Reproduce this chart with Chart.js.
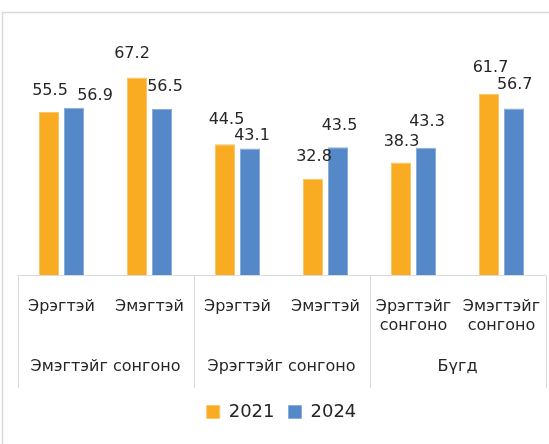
<!DOCTYPE html>
<html>
<head>
<meta charset="utf-8">
<script src="https://cdn.jsdelivr.net/npm/chart.js@4/dist/chart.umd.min.js"></script>
<style>
  html, body { margin: 0; padding: 0; background: #ffffff; }
  #wrap { width: 549px; height: 444px; position: relative; }
</style>
</head>
<body>
<div id="wrap"><canvas id="c" width="549" height="444"></canvas></div>
<script>
// ---- data ----
const categories = [
  ["Эрэгтэй"], ["Эмэгтэй"],
  ["Эрэгтэй"], ["Эмэгтэй"],
  ["Эрэгтэйг", "сонгоно"], ["Эмэгтэйг", "сонгоно"]
];
const groupLabels = ["Эмэгтэйг сонгоно", "Эрэгтэйг сонгоно", "Бүгд"];
const seriesNames = ["2021", "2024"];
const values2021 = [55.5, 67.2, 44.5, 32.8, 38.3, 61.7];
const values2024 = [56.9, 56.5, 43.1, 43.5, 43.3, 56.7];

// ---- styles ----
const FONT = "'DejaVu Sans', sans-serif";
const TEXT = "#262626";
const LINE = "#d9d9d9";
const ORANGE = "#F9AB22";
const BLUE = "#5588C8";
// label placement tweaks (dx, distance of label centre above bar top)
const labelDx = [[1, -5, 1.5, 1, 0.5, 1.5], [21, 3, 2, 1.5, 1, 0.7]];
const labelGap = [[21, 24, 24, 21.5, 21, 26], [12, 22, 13, 21, 25.5, 23.6]];

const overlay = {
  id: 'overlay',
  beforeDraw(chart) {
    const ctx = chart.ctx;
    ctx.save();
    ctx.fillStyle = '#fff';
    ctx.fillRect(0, 0, chart.width, chart.height);
    // outer frame (partially visible)
    ctx.strokeStyle = LINE;
    ctx.lineWidth = 1.5;
    ctx.beginPath();
    ctx.moveTo(2.5, chart.height);
    ctx.lineTo(2.5, 12.5);
    ctx.lineTo(chart.width, 12.5);
    ctx.stroke();
    ctx.restore();
  },
  afterDraw(chart) {
    const ctx = chart.ctx;
    const x = chart.scales.x;
    const area = chart.chartArea;
    const n = categories.length;
    const step = (x.getPixelForValue(1) - x.getPixelForValue(0));
    ctx.save();
    // axis baseline
    ctx.strokeStyle = LINE;
    ctx.lineWidth = 1;
    ctx.beginPath();
    ctx.moveTo(area.left, Math.round(area.bottom) + 0.5);
    ctx.lineTo(area.right, Math.round(area.bottom) + 0.5);
    // group separators
    for (let g = 0; g <= groupLabels.length; g++) {
      const px = Math.round(x.getPixelForValue(g * 2) - step / 2) + 0.5;
      ctx.moveTo(px, area.bottom);
      ctx.lineTo(px, area.bottom + 113);
    }
    ctx.stroke();

    // category labels
    ctx.fillStyle = TEXT;
    ctx.textAlign = 'center';
    ctx.textBaseline = 'middle';
    ctx.font = "16px " + FONT;
    for (let i = 0; i < n; i++) {
      const px = x.getPixelForValue(i);
      categories[i].forEach((line, k) => {
        ctx.fillText(line, px, area.bottom + 32 + k * 18.5);
      });
    }
    // group labels
    for (let g = 0; g < groupLabels.length; g++) {
      const px = (x.getPixelForValue(g * 2) + x.getPixelForValue(g * 2 + 1)) / 2;
      ctx.fillText(groupLabels[g], px, area.bottom + 92);
    }

    // data labels
    ctx.font = "16px " + FONT;
    chart.data.datasets.forEach((ds, d) => {
      const meta = chart.getDatasetMeta(d);
      meta.data.forEach((bar, i) => {
        const v = ds.data[i];
        ctx.fillText(v.toFixed(1), bar.x + labelDx[d][i], bar.y - labelGap[d][i]);
      });
    });
    ctx.restore();
  }
};

new Chart(document.getElementById('c'), {
  type: 'bar',
  data: {
    labels: categories,
    datasets: [
      { label: seriesNames[0], data: values2021, backgroundColor: ORANGE, borderColor: '#FCC56A', borderWidth: 1 },
      { label: seriesNames[1], data: values2024, backgroundColor: BLUE, borderColor: '#8AAEDC', borderWidth: 1 }
    ]
  },
  options: {
    responsive: false,
    animation: false,
    devicePixelRatio: 1,
    categoryPercentage: 0.568,
    barPercentage: 0.8,
    layout: { padding: { left: 17.5, right: 3.5, top: 40, bottom: 13 } },
    scales: {
      x: {
        display: true,
        grid: { display: false },
        border: { display: false },
        ticks: { display: false },
        afterFit(scale) { scale.height = 114; }
      },
      y: { display: false, min: 0, max: 80 }
    },
    plugins: {
      legend: {
        display: true,
        position: 'bottom',
        labels: {
          boxWidth: 13, boxHeight: 13, padding: 14,
          color: TEXT,
          font: { family: FONT, size: 18 }
        }
      },
      tooltip: { enabled: false },
      title: { display: false }
    }
  },
  plugins: [overlay]
});
</script>
</body>
</html>
